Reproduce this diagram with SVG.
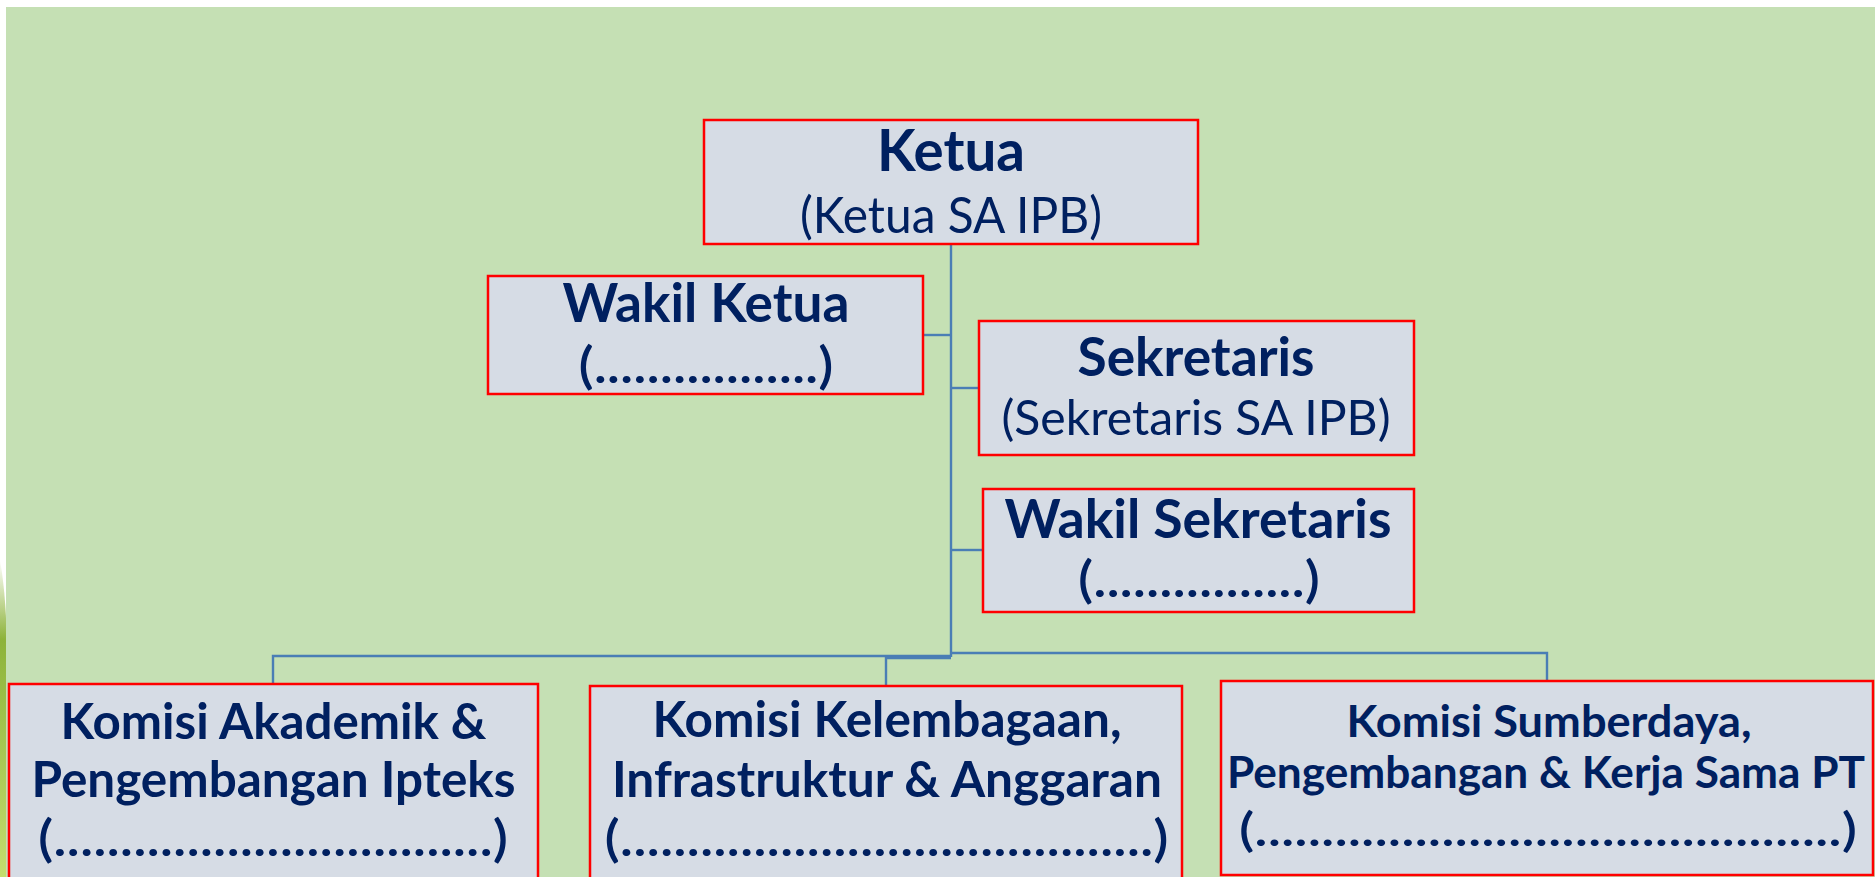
<svg xmlns="http://www.w3.org/2000/svg" width="1875" height="877" viewBox="0 0 1875 877">
<defs>
<linearGradient id="leaf" x1="0" y1="0" x2="0" y2="1">
<stop offset="0" stop-color="#ffffff"/>
<stop offset="0.25" stop-color="#8DB33A"/>
<stop offset="1" stop-color="#C4DE6E"/>
</linearGradient>
<style>
.box{fill:#D6DCE5;stroke:#FF0000;stroke-width:2.5}
.ln{fill:none;stroke:#4A7EB5;stroke-width:2.4}
.t{font-family:Lato,"Open Sans","Liberation Sans",sans-serif;fill:#002060;text-anchor:middle}
.b{font-weight:bold}
.d{font-weight:600}
</style>
</defs>
<rect x="0" y="0" width="1875" height="877" fill="#ffffff"/>
<path d="M0,560 Q7,600 7,660 L7,877 L0,877 Z" fill="url(#leaf)"/>
<rect x="6" y="7" width="1869" height="870" fill="#C5E0B4"/>

<g id="connectors">
<line class="ln" x1="951" y1="244" x2="951" y2="657"/>
<line class="ln" x1="923" y1="335" x2="951" y2="335"/>
<line class="ln" x1="951" y1="388" x2="979" y2="388"/>
<line class="ln" x1="951" y1="550" x2="983" y2="550"/>
<polyline class="ln" points="273,684 273,656 951,656"/>
<polyline class="ln" points="951,658 886,658 886,686"/>
<polyline class="ln" points="951,653 1547,653 1547,681"/>
</g>

<g id="ketua">
<rect class="box" x="704" y="120" width="494" height="124"/>
<text class="t b" x="951" y="171" font-size="58" textLength="148" lengthAdjust="spacingAndGlyphs">Ketua</text>
<text class="t" x="951" y="233" font-size="50" textLength="302" lengthAdjust="spacingAndGlyphs">(Ketua SA IPB)</text>
</g>

<g id="wakil-ketua">
<rect class="box" x="488" y="276" width="435" height="118"/>
<text class="t b" x="706" y="322" font-size="53" textLength="287" lengthAdjust="spacingAndGlyphs">Wakil Ketua</text>
<text class="t d" x="706" y="383" font-size="50" textLength="255" lengthAdjust="spacingAndGlyphs">(.................)</text>
</g>

<g id="sekretaris">
<rect class="box" x="979" y="321" width="435" height="134"/>
<text class="t b" x="1196" y="376" font-size="54" textLength="237" lengthAdjust="spacingAndGlyphs">Sekretaris</text>
<text class="t" x="1196" y="435" font-size="48" textLength="389" lengthAdjust="spacingAndGlyphs">(Sekretaris SA IPB)</text>
</g>

<g id="wakil-sekretaris">
<rect class="box" x="983" y="489" width="431" height="123"/>
<text class="t b" x="1198" y="538" font-size="54" textLength="387" lengthAdjust="spacingAndGlyphs">Wakil Sekretaris</text>
<text class="t d" x="1199" y="597" font-size="50" textLength="242" lengthAdjust="spacingAndGlyphs">(................)</text>
</g>

<g id="komisi-akademik">
<rect class="box" x="9" y="684" width="529" height="210"/>
<text class="t b" x="273.5" y="739" font-size="49" textLength="426" lengthAdjust="spacingAndGlyphs">Komisi Akademik &amp;</text>
<text class="t b" x="273.5" y="797" font-size="49" textLength="484" lengthAdjust="spacingAndGlyphs">Pengembangan Ipteks</text>
<text class="t d" x="273" y="856" font-size="50" textLength="470" lengthAdjust="spacingAndGlyphs">(.................................)</text>
</g>

<g id="komisi-kelembagaan">
<rect class="box" x="590" y="686" width="592" height="210"/>
<text class="t b" x="887" y="737" font-size="49" textLength="469" lengthAdjust="spacingAndGlyphs">Komisi Kelembagaan,</text>
<text class="t b" x="887" y="797" font-size="49" textLength="550" lengthAdjust="spacingAndGlyphs">Infrastruktur &amp; Anggaran</text>
<text class="t d" x="886.6" y="856" font-size="50" textLength="564" lengthAdjust="spacingAndGlyphs">(........................................)</text>
</g>

<g id="komisi-sumberdaya">
<rect class="box" x="1221" y="681" width="652" height="194"/>
<text class="t b" x="1549" y="737" font-size="43" textLength="405" lengthAdjust="spacingAndGlyphs">Komisi Sumberdaya,</text>
<text class="t b" x="1546" y="788" font-size="43" textLength="638" lengthAdjust="spacingAndGlyphs">Pengembangan &amp; Kerja Sama PT</text>
<text class="t d" x="1548" y="846" font-size="46" textLength="618" lengthAdjust="spacingAndGlyphs">(............................................)</text>
</g>
</svg>
